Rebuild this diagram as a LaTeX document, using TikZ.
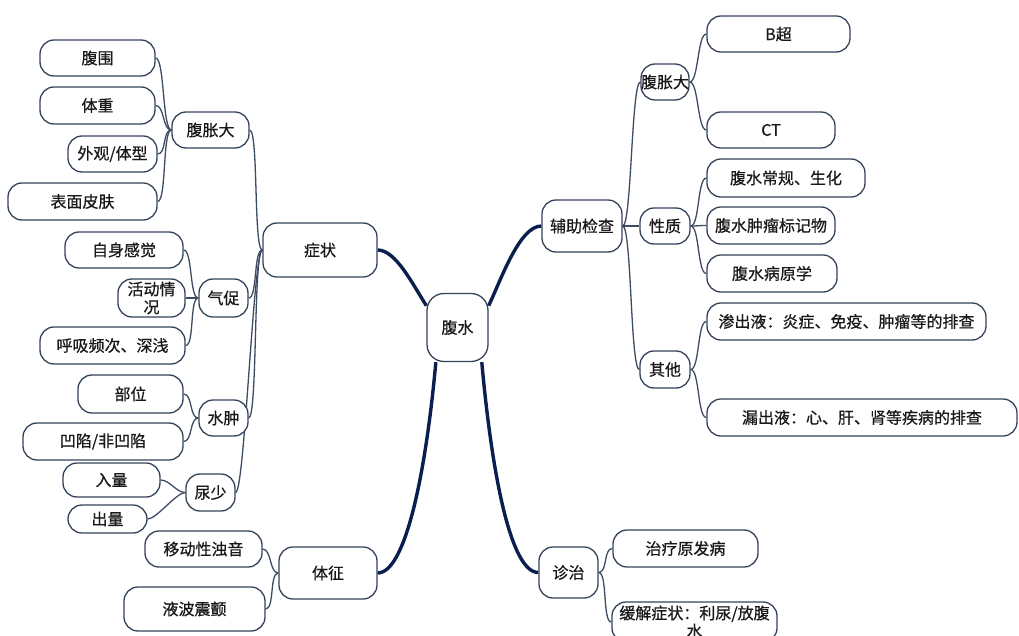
\documentclass[tikz,border=0pt]{standalone}
\usepackage{fontspec}
\setmainfont{Noto Sans CJK SC}[BoldFont={Noto Sans CJK SC}, BoldFeatures={FakeBold=0.6}]
\usetikzlibrary{backgrounds}
\definecolor{boxc}{HTML}{35435A}
\definecolor{linec}{HTML}{3D4B63}
\definecolor{mainc}{HTML}{0B1F4E}
\tikzset{
  box/.style={draw=boxc, line width=1.3pt, rounded corners=14pt, fill=white,
    inner sep=0pt, align=center, text=black!90, font=\fontsize{16pt}{18pt}\selectfont\bfseries},
  rootbox/.style={box, rounded corners=17pt},
  thinc/.style={draw=linec, line width=1.3pt},
  mainl/.style={draw=mainc, line width=3.4pt},
}
\newcommand\lcn[2]{\draw[thinc] (#1.west) .. controls +(-9,0) and +(9,0) .. (#2.east);}
\newcommand\rcn[2]{\draw[thinc] (#1.east) .. controls +(9,0) and +(-9,0) .. (#2.west);}
\begin{document}
\begin{tikzpicture}[x=1pt,y=-1pt]
\useasboundingbox (0,0) rectangle (1019,636);
\clip (0,0) rectangle (1019,636);
% centre and main branches
\node[rootbox, minimum width=61pt, minimum height=68pt] (root) at (457.5,327.5) {腹水};
\node[box, minimum width=114pt, minimum height=54pt] (zz) at (320,250) {症状};
\node[box, minimum width=80pt, minimum height=52pt] (fz) at (582,226) {辅助检查};
\node[box, minimum width=98pt, minimum height=52pt] (tz) at (328,573) {体征};
\node[box, minimum width=59pt, minimum height=51pt] (zl) at (568.5,572.5) {诊治};
% left: symptoms
\node[box, minimum width=77pt, minimum height=36pt] (lfz) at (210.5,130) {腹胀大};
\node[box, minimum width=115pt, minimum height=36pt] (fw) at (97.5,58) {腹围};
\node[box, minimum width=115pt, minimum height=37pt] (tzh) at (97.5,105.5) {体重};
\node[box, minimum width=89pt, minimum height=36pt] (wg) at (112.5,154) {外观/体型};
\node[box, minimum width=149pt, minimum height=37pt] (bm) at (82.5,201.5) {表面皮肤};
\node[box, minimum width=49pt, minimum height=38pt] (qc) at (223.5,298) {气促};
\node[box, minimum width=118pt, minimum height=36pt] (zs) at (124,250) {自身感觉};
\node[box, minimum width=67pt, minimum height=38pt] (hd) at (151.5,298) {活动情\\况};
\node[box, minimum width=145pt, minimum height=37pt] (hx) at (112.5,345.5) {呼吸频次、深浅};
\node[box, minimum width=49pt, minimum height=36pt] (sz) at (223.5,418) {水肿};
\node[box, minimum width=105pt, minimum height=38pt] (bw) at (130.5,394) {部位};
\node[box, minimum width=160pt, minimum height=37pt] (ax) at (103,441.5) {凹陷/非凹陷};
\node[box, minimum width=49pt, minimum height=37pt] (ns) at (210.5,492.5) {尿少};
\node[box, minimum width=97pt, minimum height=34pt] (rl) at (111.5,480) {入量};
\node[box, minimum width=79pt, minimum height=28pt] (cl) at (107.5,519) {出量};
% left: signs
\node[box, minimum width=117pt, minimum height=36pt] (yd) at (203.5,549) {移动性浊音};
\node[box, minimum width=141pt, minimum height=44pt] (yb) at (194.5,609) {液波震颤};
% right: examinations
\node[box, minimum width=48pt, minimum height=36pt] (rfz) at (665,82) {腹胀大};
\node[box, minimum width=143pt, minimum height=36pt] (bc) at (778.5,34) {B超};
\node[box, minimum width=128pt, minimum height=36pt] (ct) at (771,130) {CT};
\node[box, minimum width=50pt, minimum height=36pt] (xz) at (665,226) {性质};
\node[box, minimum width=158pt, minimum height=38pt] (cg) at (786,178) {腹水常规、生化};
\node[box, minimum width=128pt, minimum height=37pt] (zb) at (771,225.5) {腹水肿瘤标记物};
\node[box, minimum width=130pt, minimum height=37pt] (by) at (772,273.5) {腹水病原学};
\node[box, minimum width=50pt, minimum height=37pt] (qt) at (665,369.5) {其他};
\node[box, minimum width=279pt, minimum height=37pt] (sc) at (846.5,321.5) {渗出液：炎症、免疫、肿瘤等的排查};
\node[box, minimum width=310pt, minimum height=37pt] (lc) at (862,417.5) {漏出液：心、肝、肾等疾病的排查};
% right: treatment
\node[box, minimum width=145pt, minimum height=37pt] (zy) at (685.5,548.5) {治疗原发病};
\node[box, minimum width=165pt, minimum height=40pt] (hj) at (694.5,622) {缓解症状：利尿/放腹\\水};
\begin{scope}[on background layer]
  \fill[white] (0,0) rectangle (1019,636);
  \draw[mainl] (zz.east) .. controls +(18,0) and +(-14,-22) .. (root.145);
  \draw[mainl] (root.35) .. controls +(12,-25) and +(-22,0) .. (fz.west);
  \draw[mainl] (root.238) .. controls +(-10,110) and +(28,0) .. (tz.east);
  \draw[mainl] (root.305) .. controls +(10,110) and +(-28,0) .. (zl.west);
  \lcn{zz}{lfz} \lcn{zz}{qc} \lcn{zz}{sz} \lcn{zz}{ns}
  \lcn{lfz}{fw} \lcn{lfz}{tzh} \lcn{lfz}{wg} \lcn{lfz}{bm}
  \lcn{qc}{zs} \lcn{qc}{hd} \lcn{qc}{hx}
  \lcn{sz}{bw} \lcn{sz}{ax}
  \lcn{ns}{rl} \lcn{ns}{cl}
  \lcn{tz}{yd} \lcn{tz}{yb}
  \rcn{fz}{rfz} \rcn{fz}{xz} \rcn{fz}{qt}
  \rcn{rfz}{bc} \rcn{rfz}{ct}
  \rcn{xz}{cg} \rcn{xz}{zb} \rcn{xz}{by}
  \rcn{qt}{sc} \rcn{qt}{lc}
  \rcn{zl}{zy} \rcn{zl}{hj}
\end{scope}
\end{tikzpicture}
\end{document}
